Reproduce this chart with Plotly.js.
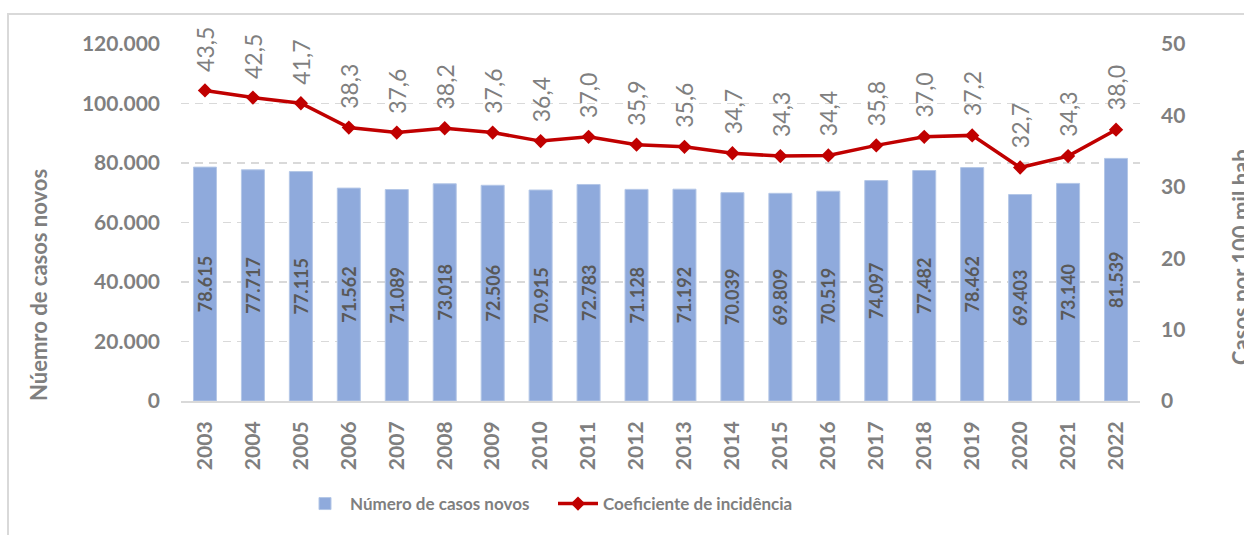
<!DOCTYPE html>
<html>
<head>
<meta charset="utf-8">
<script src="https://cdn.plot.ly/plotly-3.0.1.min.js"></script>
<style>
  html, body { margin: 0; padding: 0; background: #ffffff; overflow: hidden; }
  #frame { position: absolute; left: 7px; top: 13px; width: 2000px; height: 2000px;
           border-left: 2px solid #d9d9d9; border-top: 2px solid #d9d9d9; }
  #chart { position: absolute; left: 0; top: 0; width: 1244px; height: 535px; }
</style>
</head>
<body>
<div id="frame"></div>
<div id="chart"></div>
<script>
const years = ['2003','2004','2005','2006','2007','2008','2009','2010','2011','2012',
               '2013','2014','2015','2016','2017','2018','2019','2020','2021','2022'];
const newCases = [78615, 77717, 77115, 71562, 71089, 73018, 72506, 70915, 72783, 71128,
                  71192, 70039, 69809, 70519, 74097, 77482, 78462, 69403, 73140, 81539];
const incidence = [43.5, 42.5, 41.7, 38.3, 37.6, 38.2, 37.6, 36.4, 37.0, 35.9,
                   35.6, 34.7, 34.3, 34.4, 35.8, 37.0, 37.2, 32.7, 34.3, 38.0];
const leftTicks = [0, 20000, 40000, 60000, 80000, 100000, 120000];
const rightTicks = [0, 10, 20, 30, 40, 50];
const barName = 'Número de casos novos';
const lineName = 'Coeficiente de incidência';
const leftTitle = 'Núemro de casos novos';
const rightTitle = 'Casos por 100 mil hab.';

const FONT = 'Lato, "Open Sans", sans-serif';
const GRAY = '#7f7f7f';

const bars = {
  type: 'bar', x: years, y: newCases, name: barName,
  marker: { color: '#8faadc', line: { color: '#b4c7e7', width: 1 } },
  width: 0.48,
  texttemplate: '%{y:,d}', textposition: 'inside', insidetextanchor: 'middle',
  textangle: -90, constraintext: 'none',
  textfont: { family: FONT, size: 18, color: '#595959', weight: 'bold' },
  hoverinfo: 'skip'
};
const line = {
  type: 'scatter', mode: 'lines+markers', x: years, y: incidence, yaxis: 'y2',
  name: lineName,
  line: { color: '#c00000', width: 3.5 },
  marker: { symbol: 'diamond', size: 11, color: '#c00000' },
  hoverinfo: 'skip'
};

const annotations = incidence.map((v, i) => ({
  xref: 'x', yref: 'y2', x: i, y: v,
  text: v.toFixed(1).replace('.', ','), showarrow: false,
  textangle: -90, xanchor: 'center', yanchor: 'bottom', yshift: 17,
  font: { family: FONT, size: 23, color: GRAY }
}));
annotations.push({
  xref: 'paper', yref: 'paper', x: (38 - 181) / 959, y: (401 - 285) / 357,
  text: leftTitle, showarrow: false, textangle: -90, xanchor: 'center', yanchor: 'middle',
  font: { family: FONT, size: 22, color: GRAY, weight: 'bold' }
});
annotations.push({
  xref: 'paper', yref: 'paper', x: (1240 - 181) / 959, y: (401 - 255) / 357,
  text: rightTitle, showarrow: false, textangle: -90, xanchor: 'center', yanchor: 'middle',
  font: { family: FONT, size: 22, color: GRAY, weight: 'bold' }
});

const layout = {
  width: 1244, height: 535,
  margin: { l: 181, r: 104, t: 44, b: 134 },
  paper_bgcolor: 'rgba(0,0,0,0)', plot_bgcolor: 'rgba(0,0,0,0)',
  separators: ',.',
  font: { family: FONT, color: GRAY },
  showlegend: true,
  legend: {
    orientation: 'h', x: (300 - 181) / 959, xanchor: 'left',
    y: (401 - 504) / 357, yanchor: 'middle',
    font: { family: FONT, size: 17, color: GRAY, weight: 'bold' },
    itemwidth: 40, entrywidth: 198, traceorder: 'normal', bgcolor: 'rgba(0,0,0,0)'
  },
  xaxis: {
    type: 'category', range: [-0.5, 19.5], tickangle: -90,
    tickfont: { family: FONT, size: 21, color: GRAY, weight: 'bold' },
    showline: true, linecolor: '#d9d9d9', linewidth: 2,
    showgrid: false, ticks: '', ticklabelstandoff: 10, fixedrange: true
  },
  yaxis: {
    range: [0, 120000], tickvals: leftTicks, tickformat: ',d',
    tickfont: { family: FONT, size: 21, color: GRAY, weight: 'bold' },
    showgrid: true, gridcolor: '#d9d9d9', gridwidth: 1.5, griddash: '8px,6px',
    zeroline: false, showline: false, ticks: '', ticklabelstandoff: 20, fixedrange: true
  },
  yaxis2: {
    overlaying: 'y', side: 'right', range: [0, 50], tickvals: rightTicks,
    tickfont: { family: FONT, size: 21, color: GRAY, weight: 'bold' },
    showgrid: false, zeroline: false, showline: false, ticks: '', ticklabelstandoff: 20,
    fixedrange: true
  },
  annotations: annotations
};

Plotly.newPlot('chart', [bars, line], layout, { staticPlot: true, displayModeBar: false });
</script>
</body>
</html>
